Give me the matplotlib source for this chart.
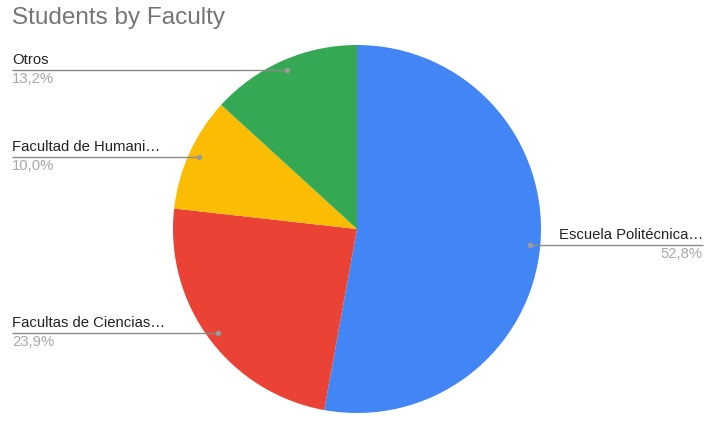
import numpy as np
import matplotlib
matplotlib.use("Agg")
from matplotlib import pyplot as plt

plt.rcParams['font.family'] = ['Liberation Sans', 'DejaVu Sans']

labels = ["Escuela Politécnica…", "Facultas de Ciencias…", "Facultad de Humani…", "Otros"]
valores = [52.8, 23.9, 10.0, 13.2]
pct = ["52,8%", "23,9%", "10,0%", "13,2%"]
colores = ["#4285F4", "#EA4335", "#FBBC04", "#34A853"]

W, H = 712, 434
cx, cy, r = 357, H - 229, 184

fig = plt.figure(figsize=(W / 100, H / 100), dpi=100)
ax = fig.add_axes([0, 0, 1, 1])
ax.pie(valores, colors=colores, startangle=90, counterclock=False,
       center=(cx, cy), radius=r, frame=True,
       wedgeprops=dict(linewidth=0))
ax.set_xlim(0, W)
ax.set_ylim(0, H)
ax.axis("off")

fig.text(12 / W, 1 - 18 / H, "Students by Faculty", fontsize=17.5,
         color="#757575", va="center", ha="left")

# lignes et étiquettes
total = sum(valores)
cum = 0
for lab, v, p in zip(labels, valores, pct):
    mid = (cum + v / 2) / total * 2 * np.pi
    cum += v
    dx = cx + 0.945 * r * np.sin(mid)
    dy = cy + 0.945 * r * np.cos(mid)
    if np.sin(mid) > 0:
        x_txt, ha = 703, "right"
    else:
        x_txt, ha = 12, "left"
    ax.plot([dx, x_txt], [dy, dy], color="#8a8a8a", lw=1, solid_capstyle="butt")
    ax.plot(dx, dy, "o", color="#9a9a9a", ms=4, mec="none")
    ax.text(x_txt, dy + 3, lab, fontsize=10.7, color="#222222", ha=ha, va="bottom")
    ax.text(x_txt, dy - 2, p, fontsize=10.7, color="#a8a8a8", ha=ha, va="top")

fig.savefig("out.png", dpi=100)
